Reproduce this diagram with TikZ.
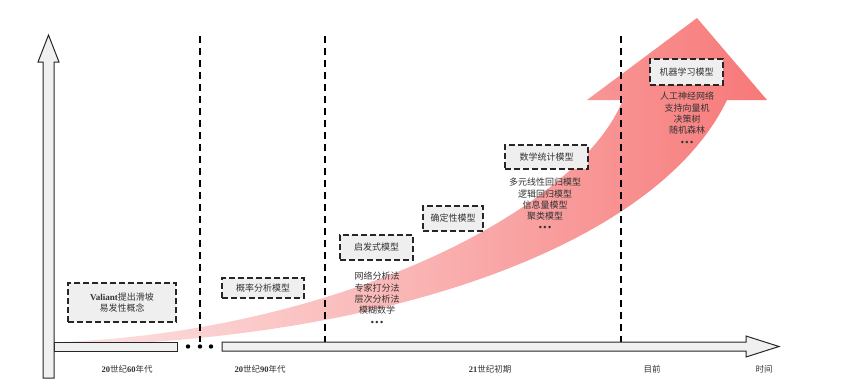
\documentclass[tikz,border=0pt]{standalone}
\usepackage{fontspec}
\setmainfont{Liberation Serif}
\newfontfamily\cjk{Noto Sans CJK SC}
\definecolor{txt}{HTML}{333333}
\definecolor{boxfill}{HTML}{EFEFEF}
\definecolor{barfill}{HTML}{F0F0F0}
\definecolor{pinkA}{HTML}{FCE3E3}
\definecolor{pinkM}{HTML}{FAB4B4}
\definecolor{pinkB}{HTML}{F77878}
\newcommand\lnum[1]{{\rmfamily\bfseries #1}}
\newcommand\dotsrow{{\rmfamily\bfseries •\,•\,•}}
\begin{document}
\begin{tikzpicture}[x=1pt,y=-1pt,
  modelbox/.style={draw=black!85, line width=1.3pt, dash pattern=on 6pt off 3pt,
    fill=boxfill, text=txt, font=\cjk\fontsize{9}{11}\selectfont, inner sep=0pt, align=center},
  listtext/.style={text=txt, font=\cjk\fontsize{9}{11.3}\selectfont, align=center, inner sep=0pt},
  axislabel/.style={text=txt, font=\cjk\fontsize{8.5}{10}\selectfont, inner sep=0pt},
  era/.style={draw=black, line width=1.2pt, dash pattern=on 7pt off 5pt},
  bar/.style={draw=black!85, line width=1pt, fill=barfill}]
\useasboundingbox (0,0) rectangle (855,386);

% growth ribbon
\shade[left color=pinkA, right color=pinkB, middle color=pinkM]
  (60,342) .. controls (330,332) and (575,215) .. (623,100)
  -- (587,100) -- (697,18) -- (767,100) -- (727,100)
  .. controls (660,240) and (400,340) .. (60,346) -- cycle;

% era separators
\coordinate (s1t) at (200,36);  \coordinate (s1b) at (200,342);
\coordinate (s2t) at (325,36);  \coordinate (s2b) at (325,342);
\coordinate (s3t) at (621,36);  \coordinate (s3b) at (621,342);
\draw[era] (s1t) -- (s1b);
\draw[era] (s2t) -- (s2b);
\draw[era] (s3t) -- (s3b);

% axes
\draw[bar] (54,342) rectangle (177,351);
\draw[bar] (222,342) -- (746,342) -- (746,336) -- (779,346.5) -- (746,357)
  -- (746,351) -- (222,351) -- cycle;
\draw[bar] (43,378) -- (43,62) -- (38,62) -- (48.5,35) -- (59,62) -- (54,62)
  -- (54,378) -- cycle;
\fill[black] (188,346.5) circle[radius=2.2pt];
\fill[black] (200,346.5) circle[radius=2.2pt];
\fill[black] (211,346.5) circle[radius=2.2pt];

% model boxes
\node[modelbox, minimum width=108pt, minimum height=39pt] (valiant) at (122,302.5)
  {\lnum{Valiant}提出滑坡\\易发性概念};
\node[modelbox, minimum width=82pt, minimum height=20pt] (prob) at (263,288) {概率分析模型};
\node[modelbox, minimum width=73pt, minimum height=25pt] (heur) at (376.5,247.5) {启发式模型};
\node[modelbox, minimum width=60pt, minimum height=25pt] (det) at (453,218.5) {确定性模型};
\node[modelbox, minimum width=83pt, minimum height=24pt] (stat) at (546.5,157) {数学统计模型};
\node[modelbox, minimum width=73pt, minimum height=26pt] (ml) at (686.5,72) {机器学习模型};

% method lists
\node[listtext, anchor=north] (heurlist) at (377,272)
  {网络分析法\\专家打分法\\层次分析法\\模糊数学\\\dotsrow};
\node[listtext, anchor=north] (statlist) at (545,178)
  {多元线性回归模型\\逻辑回归模型\\信息量模型\\聚类模型\\\dotsrow};
\node[listtext, anchor=north] (mllist) at (687,92)
  {人工神经网络\\支持向量机\\决策树\\随机森林\\\dotsrow};

% time labels
\node[axislabel] (t60) at (127,369.5) {\lnum{20}世纪\lnum{60}年代};
\node[axislabel] (t90) at (260,369.5) {\lnum{20}世纪\lnum{90}年代};
\node[axislabel] (t21) at (490,369.5) {\lnum{21}世纪初期};
\node[axislabel] (tnow) at (652,369.5) {目前};
\node[axislabel] (ttime) at (764,369.5) {时间};
\end{tikzpicture}
\end{document}
